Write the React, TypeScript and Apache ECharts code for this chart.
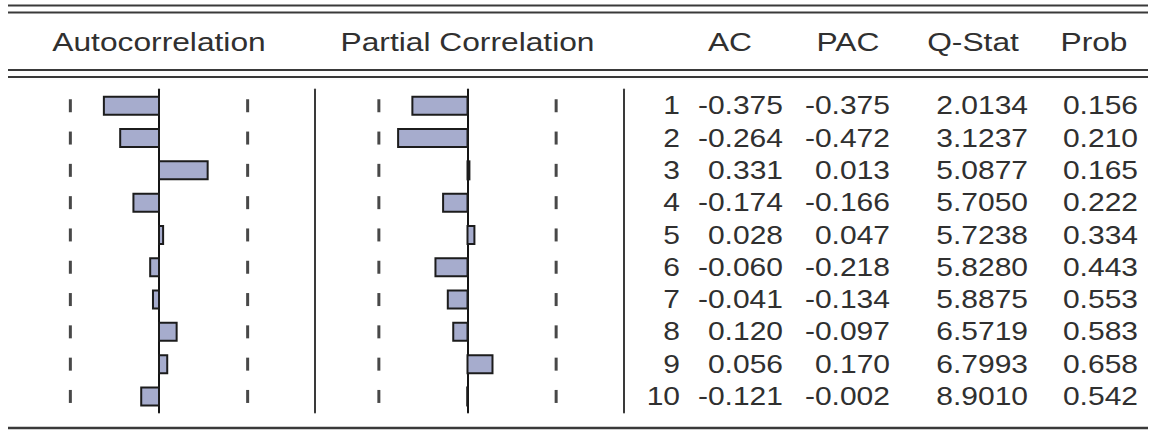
import React, { useEffect, useRef } from "react";
import * as echarts from "echarts";

// ---- data ----
const lags = ["1", "2", "3", "4", "5", "6", "7", "8", "9", "10"];
const acValues = [-0.375, -0.264, 0.331, -0.174, 0.028, -0.06, -0.041, 0.12, 0.056, -0.121];
const pacValues = [-0.375, -0.472, 0.013, -0.166, 0.047, -0.218, -0.134, -0.097, 0.17, -0.002];
const qStatValues = [2.0134, 3.1237, 5.0877, 5.705, 5.7238, 5.828, 5.8875, 6.5719, 6.7993, 8.901];
const probValues = [0.156, 0.21, 0.165, 0.222, 0.334, 0.443, 0.553, 0.583, 0.658, 0.542];
const confBound = 0.603; // 2/sqrt(T)
const panelTitles = ["Autocorrelation", "Partial Correlation"];
const columnTitles = ["AC", "PAC", "Q-Stat", "Prob"];

// ---- layout ----
const W = 1151;
const H = 431;
const UNIT = 147; // px per correlation unit
const GRID_TOP = 89.6;
const GRID_H = 323;
const AC_ZERO = 159;
const PAC_ZERO = 467.5;
const AC_MIN = -1.0;
const AC_MAX = 1.061;
const PAC_MIN = -1.04;
const PAC_MAX = 1.065;
const TABLE_LEFT = 624;
const TABLE_RIGHT = 1148;
const LINE_LEFT = 8;
const FONT = '"Liberation Sans", Arial, Helvetica, sans-serif';
const TEXT_COLOR = "#303030";
const NUM_SCALE_X = 1.2;
const HEAD_SCALE_X = 1.27;
const FONT_SIZE = 25;
const BAR_H = 18;
// right edges of table columns (offsets from the table grid's left)
const colRight = [56, 159, 266, 404, 514];
const headerCenters = [AC_ZERO, PAC_ZERO, 730, 848, 973, 1094];

const BAR_FILL = "#A6ACCD";
const BAR_BORDER = "#1c1c1c";

function boundPoints() {
  const pts: number[][] = [];
  lags.forEach((_, i) => {
    pts.push([-confBound, i]);
    pts.push([confBound, i]);
  });
  return pts;
}

function catAxis(gridIndex: number, extra: any = {}) {
  return {
    type: "category",
    gridIndex,
    data: lags,
    inverse: true,
    axisTick: { show: false },
    axisLabel: { show: false },
    splitLine: { show: false },
    ...extra,
  };
}

// EViews-style bar: outline is never thinned, so tiny values show as a dark sliver
function renderBar(_params: any, api: any) {
  const v = api.value(0);
  const i = api.value(1);
  const p0 = api.coord([0, i]);
  const p1 = api.coord([v, i]);
  const x = Math.min(p0[0], p1[0]);
  const w = Math.abs(p1[0] - p0[0]);
  return {
    type: "rect",
    shape: { x, y: p0[1] - BAR_H / 2, width: w, height: BAR_H },
    style: { fill: BAR_FILL, stroke: BAR_BORDER, lineWidth: 2 },
  };
}

export default function App() {
  const ref = useRef<HTMLDivElement>(null);

  useEffect(() => {
    if (!ref.current) return;
    const chart = echarts.init(ref.current, undefined, { renderer: "svg" });

    const lineStyle = { stroke: "#3a3a3a", lineWidth: 2 };
    const hLine = (y: number, w = 2) => ({
      type: "line",
      silent: true,
      shape: { x1: LINE_LEFT, y1: y, x2: TABLE_RIGHT, y2: y },
      style: { ...lineStyle, lineWidth: w },
    });

    const titles = [...panelTitles, ...columnTitles];
    const headerTexts = titles.map((t, i) => ({
      type: "text",
      silent: true,
      x: headerCenters[i],
      y: 42,
      scaleX: HEAD_SCALE_X,
      style: {
        text: t,
        fill: TEXT_COLOR,
        fontSize: FONT_SIZE,
        fontFamily: FONT,
        align: "center",
        verticalAlign: "middle",
      },
    }));

    const tableData = lags.map((_, i) => [0, i, acValues[i], pacValues[i], qStatValues[i], probValues[i]]);

    const option: any = {
      animation: false,
      backgroundColor: "#ffffff",
      grid: [
        { left: AC_ZERO + AC_MIN * UNIT, top: GRID_TOP, width: (AC_MAX - AC_MIN) * UNIT, height: GRID_H },
        { left: PAC_ZERO + PAC_MIN * UNIT, top: GRID_TOP, width: (PAC_MAX - PAC_MIN) * UNIT, height: GRID_H },
        { left: TABLE_LEFT, top: GRID_TOP, width: TABLE_RIGHT - TABLE_LEFT, height: GRID_H },
      ],
      xAxis: [
        { type: "value", gridIndex: 0, min: AC_MIN, max: AC_MAX, show: false },
        { type: "value", gridIndex: 1, min: PAC_MIN, max: PAC_MAX, show: false },
        { type: "value", gridIndex: 2, min: 0, max: 1, show: false },
      ],
      yAxis: [
        catAxis(0, { axisLine: { show: true, onZero: true, lineStyle: { color: "#151515", width: 2 } } }),
        catAxis(0, { position: "right", axisLine: { show: true, onZero: false, lineStyle: { color: "#3a3a3a", width: 2 } } }),
        catAxis(1, { axisLine: { show: true, onZero: true, lineStyle: { color: "#151515", width: 2 } } }),
        catAxis(1, { position: "right", axisLine: { show: true, onZero: false, lineStyle: { color: "#3a3a3a", width: 2 } } }),
        catAxis(2, { show: false }),
      ],
      series: [
        {
          type: "custom",
          name: "AC",
          xAxisIndex: 0,
          yAxisIndex: 0,
          data: acValues.map((v, i) => [v, i]),
          encode: { x: 0, y: 1 },
          renderItem: renderBar,
          silent: true,
        },
        {
          type: "scatter",
          xAxisIndex: 0,
          yAxisIndex: 0,
          data: boundPoints(),
          symbol: "rect",
          symbolSize: [3, 13],
          itemStyle: { color: "#1a1a1a" },
          silent: true,
        },
        {
          type: "custom",
          name: "PAC",
          xAxisIndex: 1,
          yAxisIndex: 2,
          data: pacValues.map((v, i) => [v, i]),
          encode: { x: 0, y: 1 },
          renderItem: renderBar,
          silent: true,
        },
        {
          type: "scatter",
          xAxisIndex: 1,
          yAxisIndex: 2,
          data: boundPoints(),
          symbol: "rect",
          symbolSize: [3, 13],
          itemStyle: { color: "#1a1a1a" },
          silent: true,
        },
        {
          type: "custom",
          xAxisIndex: 2,
          yAxisIndex: 4,
          data: tableData,
          encode: { x: 0, y: 1 },
          silent: true,
          renderItem: (params: any, api: any) => {
            const idx = api.value(1);
            const pt = api.coord([0, idx]);
            const left = params.coordSys.x;
            const texts = [
              lags[params.dataIndex],
              Number(api.value(2)).toFixed(3),
              Number(api.value(3)).toFixed(3),
              Number(api.value(4)).toFixed(4),
              Number(api.value(5)).toFixed(3),
            ];
            return {
              type: "group",
              children: texts.map((t, k) => ({
                type: "text",
                x: left + colRight[k],
                y: pt[1],
                scaleX: NUM_SCALE_X,
                style: {
                  text: t,
                  fill: TEXT_COLOR,
                  fontSize: FONT_SIZE,
                  fontFamily: FONT,
                  align: "right",
                  verticalAlign: "middle",
                },
              })),
            };
          },
        },
      ],
      graphic: [hLine(5.5), hLine(12.5), hLine(70), hLine(77), hLine(428, 2.5), ...headerTexts],
    };

    chart.setOption(option);
    return () => chart.dispose();
  }, []);

  return (
    <div
      ref={ref}
      style={{ position: "fixed", left: 0, top: 0, width: W, height: H, background: "#fff" }}
    />
  );
}
